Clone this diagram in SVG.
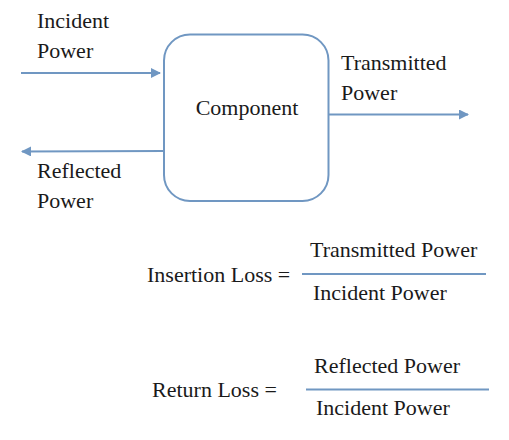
<svg xmlns="http://www.w3.org/2000/svg" width="509" height="440" viewBox="0 0 509 440">
<style>
text{font-family:"Liberation Serif","DejaVu Serif","Times New Roman",serif;font-size:22px;fill:#1a1a1a}
.ln{stroke:#7097c2;stroke-width:2;fill:none}
</style>
<defs>
<marker id="ah" viewBox="0 0 10 10" refX="9" refY="5" markerWidth="5" markerHeight="5" markerUnits="strokeWidth" orient="auto">
<path d="M0,0 L10,5 L0,10 z" fill="#7097c2"/>
</marker>
</defs>
<rect width="509" height="440" fill="#fff"/>
<g id="component">
<rect class="ln" x="164" y="34.5" width="164.5" height="166.5" rx="26" ry="26"/>
<text x="247" y="115" text-anchor="middle">Component</text>
</g>
<g id="incident">
<text x="37" y="28">Incident</text>
<text x="37" y="58">Power</text>
</g>
<g id="transmitted">
<text x="341" y="70">Transmitted</text>
<text x="341" y="100">Power</text>
</g>
<g id="reflected">
<text x="37" y="178">Reflected</text>
<text x="37" y="208">Power</text>
</g>
<g id="connectors">
<line class="ln" x1="21" y1="73" x2="160" y2="73" marker-end="url(#ah)"/>
<line class="ln" x1="329" y1="114.5" x2="468" y2="114.5" marker-end="url(#ah)"/>
<line class="ln" x1="164" y1="151" x2="22" y2="151.5" marker-end="url(#ah)"/>
</g>
<g id="insertion-loss">
<text x="147" y="282">Insertion Loss =</text>
<text x="310" y="257">Transmitted Power</text>
<line class="ln" x1="302" y1="274" x2="486" y2="274"/>
<text x="313" y="300">Incident Power</text>
</g>
<g id="return-loss">
<text x="152" y="397">Return Loss =</text>
<text x="314" y="373">Reflected Power</text>
<line class="ln" x1="306" y1="389.5" x2="489" y2="389.5"/>
<text x="316" y="415">Incident Power</text>
</g>
</svg>
